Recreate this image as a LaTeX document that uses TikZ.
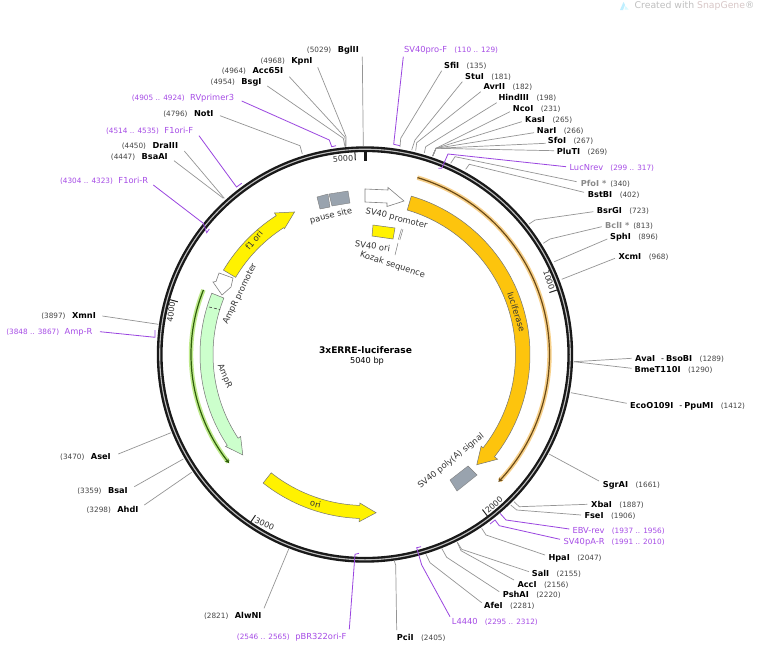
\documentclass[tikz,border=0pt]{standalone}
\usepackage{fontspec}
\setmainfont{DejaVu Sans}
\usetikzlibrary{arrows.meta}
\definecolor{primc}{HTML}{A64CE6}
\definecolor{primline}{HTML}{9A45E0}
\definecolor{numc}{HTML}{444444}
\definecolor{greyc}{HTML}{8A8A8A}
\definecolor{linec}{HTML}{959595}
\definecolor{featc}{HTML}{333333}
\definecolor{boxgrey}{HTML}{99A3AE}
\definecolor{lucc}{HTML}{FDC40D}
\definecolor{ampc}{HTML}{CCFFCC}
\definecolor{ocore}{HTML}{6B4A14}
\definecolor{oglow}{HTML}{F7D08A}
\definecolor{gcore}{HTML}{2F5F0A}
\definecolor{gglow}{HTML}{BFEA8C}
\newcommand\fnm{\fontsize{8.2}{9}\selectfont}
\newcommand\fnu{\fontsize{7.3}{9}\selectfont}
\newcommand\fpr{\fontsize{8.3}{9}\selectfont}
\newcommand\siteR[2]{{\fnm\bfseries\color{black}#1}\hspace{7.5pt}{\fnu\color{numc}#2}}
\newcommand\siteL[2]{{\fnu\color{numc}#1}\hspace{6.5pt}{\fnm\bfseries\color{black}#2}}
\newcommand\grayR[2]{{\fnm\bfseries\color{greyc}#1}\hspace{4pt}{\fnu\color{numc}#2}}
\newcommand\primR[2]{{\fpr\color{primc}#1}\hspace{7.2pt}{\fnu\color{primc}#2}}
\newcommand\primL[2]{{\fnu\color{primc}#1}\hspace{5.5pt}{\fpr\color{primc}#2}}
% id, x, y, content, start shift, knees, end, line style
\newcommand\RS[8]{\node[lbl,anchor=west] (#1) at (#2,#3) {#4};
  \coordinate (#1-end) at (#7);
  \draw[#8] ([shift={(#5)}]#1.west) #6 -- (#1-end);}
\newcommand\LS[8]{\node[lbl,anchor=east] (#1) at (#2,#3) {#4};
  \coordinate (#1-end) at (#7);
  \draw[#8] ([shift={(#5)}]#1.east) #6 -- (#1-end);}
\def\cx{365}\def\cy{354.5}
% style, a0, a1, rin, rout, abarb, rbarbin, rbarbout, atip, rtip
\newcommand\featarrow[2]{\featarrowB{#1}#2}
\newcommand\featarrowB[9]{\def\fstyle{#1}\def\aA{#2}\def\aB{#3}\def\rI{#4}\def\rO{#5}\def\aC{#6}\def\rC{#7}\def\rD{#8}\def\aT{#9}\featarrowC}
\newcommand\featarrowC[1]{\path[\fstyle] plot[domain=\aA:\aB,samples=60] ({\cx+\rO*sin(\x)},{\cy-\rO*cos(\x)})
  -- ({\cx+\rD*sin(\aC)},{\cy-\rD*cos(\aC)})
  -- ({\cx+#1*sin(\aT)},{\cy-#1*cos(\aT)})
  -- ({\cx+\rC*sin(\aC)},{\cy-\rC*cos(\aC)})
  -- plot[domain=\aB:\aA,samples=60] ({\cx+\rI*sin(\x)},{\cy-\rI*cos(\x)}) -- cycle;}
\newcommand\tickmark[1]{\draw[line width=1pt,black!85] ({\cx+203*sin(#1/14)},{\cy-203*cos(#1/14)}) -- ({\cx+194.5*sin(#1/14)},{\cy-194.5*cos(#1/14)});}
\tikzset{
  lbl/.style={inner sep=0pt,text height=6pt,text depth=1.5pt},
  sline/.style={linec,line width=0.7pt},
  pline/.style={primline,line width=0.8pt},
  flab/.style={inner sep=0pt,text=featc,font=\fontsize{8.4}{9}\selectfont},
  ticklab/.style={inner sep=0pt,text=featc,font=\fontsize{8}{9}\selectfont},
  feat/.style={draw=black!55,line width=0.5pt},
  yfeat/.style={feat,fill=yellow},
  lfeat/.style={feat,fill=lucc},
  gfeat/.style={feat,fill=ampc},
  wfeat/.style={draw=black!50,line width=0.6pt,fill=white},
  boxf/.style={draw=black!50,line width=0.4pt,fill=boxgrey},
}
\begin{document}
\begin{tikzpicture}[x=1pt,y=-1pt]
\useasboundingbox (0,0) rectangle (760,645);
\fill[white] (0,0) rectangle (760,645);
% watermark
\fill[blue!25!cyan!25] (620,10) -- (623.5,2) -- (625,5) -- (623,10) -- cycle;
\fill[blue!12!cyan!15] (625.5,6) -- (628.5,9.5) -- (624.5,9.5) -- cycle;
\node[inner sep=0pt,anchor=west,font=\fontsize{9.3}{10}\selectfont] (wm) at (634.5,6) {\color{black!25}Created with \color{red!30!black!22}SnapGene\color{black!25}®};
% ring
\draw[black!90,line width=5.8pt] (\cx,\cy) circle [radius=205.3];
\draw[white!75!black,line width=1.1pt] (\cx,\cy) circle [radius=205.3];
\draw[black!90,line width=2.6pt] (\cx+0.6,151.5) -- (\cx+0.6,160.7);
\foreach \p in {1000,2000,3000,4000,5000} {\tickmark{\p}}
\node[ticklab,rotate=4] (t5000) at (343,158.5) {5000};
\node[ticklab,rotate=-72] (t1000) at (549,280) {1000};
\node[ticklab,rotate=42] (t2000) at (494,505) {2000};
\node[ticklab,rotate=-25] (t3000) at (264.5,524) {3000};
\node[ticklab,rotate=83] (t4000) at (171,312) {4000};
% thin primer-like arcs
\draw[oglow,line width=4.4pt] plot[domain=16.5:133.2,samples=80] ({\cx+184.5*sin(\x)},{\cy-184.5*cos(\x)});
\draw[ocore,line width=1.2pt,-{Stealth[length=4.5pt,width=4.5pt]}] plot[domain=16.5:133.7,samples=80] ({\cx+184.5*sin(\x)},{\cy-184.5*cos(\x)});
\draw[gglow,line width=4.4pt] plot[domain=291.8:231.8,samples=80] ({\cx+174*sin(\x)},{\cy-174*cos(\x)});
\draw[gcore,line width=1.2pt,-{Stealth[length=4.5pt,width=4.5pt]}] plot[domain=291.8:231.3,samples=80] ({\cx+174*sin(\x)},{\cy-174*cos(\x)});
% features
\featarrow{lfeat}{{16.3}{128.3}{150.5}{165}{128.3}{148}{169}{134.6}{157}}
\featarrow{gfeat}{{291.8}{236.6}{152}{165}{236.6}{149}{167}{230.6}{158.2}}
\draw[black!75,line width=0.6pt,densely dashed] (209,307) -- (220,309.5);
\featarrow{yfeat}{{300.8}{327.4}{150.6}{164.8}{327.4}{149.4}{168}{333.7}{159}}
\featarrow{yfeat}{{218.4}{182}{151}{164}{182}{148.6}{167.3}{176}{158.6}}
\draw[wfeat] (219,273) -- (233,278) -- (231,287) -- (222,295) -- (213,282) -- (216,281.5) -- cycle;
\draw[wfeat] (365,189) -- (388,190) -- (388,187.5) -- (404,201) -- (387,206.5) -- (387,203) -- (365,202) -- cycle;
\path[boxf] (317,197) -- (328,194) -- (330,207) -- (320,209) -- cycle;
\path[boxf] (329,194) -- (348,191) -- (350,203) -- (332,206) -- cycle;
\path[yfeat] (373,225) -- (395,228) -- (393,239) -- (372,236) -- cycle;
\path[boxf] (450,480) -- (468,466) -- (477,475) -- (457,491) -- cycle;
\draw[black!50,line width=0.5pt] (401.5,228.8) -- (398.3,239.6);
\draw[black!50,line width=0.5pt] (403,229.2) -- (399.8,240);
% feature labels
\node[flab,rotate=14] (lpause) at (331,216) {pause site};
\node[flab,rotate=-14] (lsvp) at (396.5,218.5) {SV40 promoter};
\node[flab,rotate=-8] (lsvo) at (372.5,246) {SV40 ori};
\node[flab,rotate=-18] (lkoz) at (392.5,265) {Kozak sequence};
\coordinate (kozm) at (398,243);
\draw[black!50,line width=0.5pt] (kozm) -- (395,255);
\node[flab,rotate=-72,text=black!80] (lluc) at (516.5,312) {luciferase};
\node[flab,rotate=39] (lpa) at (451,461) {SV40 poly(A) signal};
\node[flab,rotate=-12] (lori) at (315.5,504) {ori};
\node[flab,rotate=50] (lf1) at (254,240) {f1 ori};
\node[flab,rotate=64] (lapr) at (240,294) {AmpR promoter};
\node[flab,rotate=-67] (lamp) at (224.5,376) {AmpR};
\node[inner sep=0pt,font=\fontsize{9.1}{10}\selectfont\bfseries] (title) at (365.5,350.5) {3xERRE-luciferase};
\node[inner sep=0pt,font=\fontsize{8.2}{9}\selectfont] (bp) at (367,361) {5040 bp};
% right side labels
\RS{svpf}{404}{50}{\primR{SV40pro-F}{(110 .. 129)}}{-.7,6.7}{-- (393.7,144.3)}{400,145.7}{pline}
\RS{sfi}{444}{66}{\siteR{SfiI}{(135)}}{-2.3,4.7}{-- (400.7,138.3)}{400,147}{sline}
\RS{stu}{465}{77}{\siteR{StuI}{(181)}}{-2.7,4.7}{-- (415,140)}{411.7,150}{sline}
\RS{avr}{483.3}{87.3}{\siteR{AvrII}{(182)}}{-2.6,4.4}{-- (416.7,142.7)}{415.7,150.7}{sline}
\RS{hin}{498.3}{98.3}{\siteR{HindIII}{(198)}}{-1.6,4.4}{-- (425.7,146.7)}{424.3,153}{sline}
\RS{nco}{512.7}{109.3}{\siteR{NcoI}{(231)}}{-2.7,2.4}{-- (436,148.3)}{432.7,156}{sline}
\RS{kas}{525}{120}{\siteR{KasI}{(265)}}{-3.3,1.7}{-- (436,148.3)}{432.7,156}{sline}
\RS{nar}{536.7}{131}{\siteR{NarI}{(266)}}{-2.7,1.7}{-- (436,148.3)}{432.7,156}{sline}
\RS{sfo}{547.7}{141.7}{\siteR{SfoI}{(267)}}{-2,1.6}{-- (436,148.3)}{432.7,156}{sline}
\RS{plu}{556.7}{152.7}{\siteR{PluTI}{(269)}}{-2.7,-2}{-- (436,148.3)}{432.7,156}{sline}
\RS{luc}{569.3}{168.7}{\primR{LucNrev}{(299 .. 317)}}{-3.3,-2}{-- (448,154) -- (441.7,168.3)}{438.3,168.3}{pline}
\RS{pfo}{580.7}{184}{\grayR{PfoI *}{(340)}}{-4,-2.3}{-- (455,156.7)}{450.7,163.3}{sline}
\RS{bst}{587.7}{195}{\siteR{BstBI}{(402)}}{-3.7,-2.7}{-- (469.3,164.3)}{465.7,169.3}{sline}
\RS{bsr}{596.7}{211}{\siteR{BsrGI}{(723)}}{-3.4,.7}{-- (535,220)}{529,224}{sline}
\RS{bcl}{605}{226.7}{\grayR{BclI *}{(813)}}{-3.3,0}{-- (550,239)}{543.3,243.3}{sline}
\RS{sph}{610}{237.3}{\siteR{SphI}{(896)}}{-2.7,1.7}{}{554.3,261.7}{sline}
\RS{xcm}{618.3}{257.7}{\siteR{XcmI}{(968)}}{-3.3,.6}{}{561.7,279.3}{sline}
\RS{ava}{635}{359.3}{\siteR{AvaI\hspace{6pt}{\mdseries-}\hspace{2pt}BsoBI}{(1289)}}{-3.3,-1}{}{574,361.7}{sline}
\RS{bme}{634.3}{370}{\siteR{BmeT110I}{(1290)}}{-2.6,-1.7}{}{574,361.7}{sline}
\RS{eco}{630}{406}{\siteR{EcoO109I\hspace{6pt}{\mdseries-}\hspace{2pt}PpuMI}{(1412)}}{-3.3,-2.7}{}{571,392.7}{sline}
\RS{sgr}{602.7}{485}{\siteR{SgrAI}{(1661)}}{-3.7,-4}{}{549,454}{sline}
\RS{xba}{591}{505}{\siteR{XbaI}{(1887)}}{-3.7,-.7}{-- (519.3,506.7)}{514,501.7}{sline}
\RS{fse}{584.3}{516}{\siteR{FseI}{(1906)}}{-3.3,-1}{-- (516.7,510)}{510.7,505}{sline}
\RS{ebv}{572.3}{531.7}{\primR{EBV-rev}{(1937 .. 1956)}}{-3,-2.7}{-- (506,520)}{500,513.3}{pline}
\RS{pa}{563.3}{542.7}{\primR{SV40pA-R}{(1991 .. 2010)}}{-3.3,-3.4}{-- (499.3,525.7) -- (495,520)}{490,524}{pline}
\RS{hpa}{548.3}{558.3}{\siteR{HpaI}{(2047)}}{-3.3,-3.3}{-- (486,535)}{481.7,528.3}{sline}
\RS{sal}{531.7}{574.3}{\siteR{SalI}{(2155)}}{-2.7,-2.6}{-- (461.7,549.3)}{457.3,542.3}{sline}
\RS{acc}{517.3}{585}{\siteR{AccI}{(2156)}}{-3.3,-5}{-- (461,550.7)}{457.3,542.3}{sline}
\RS{psh}{502.7}{595.7}{\siteR{PshAI}{(2220)}}{-3.4,-4}{-- (446.7,557.3)}{441.7,548.3}{sline}
\RS{afe}{484}{606.7}{\siteR{AfeI}{(2281)}}{-2.3,-4}{-- (430,562.7)}{426,554.3}{sline}
\RS{l44}{451.7}{622.3}{\primR{L4440}{(2295 .. 2312)}}{-1.7,-5.6}{-- (421.7,565) -- (416.7,547.7)}{421,546.7}{pline}
\RS{pci}{396.7}{638.3}{\siteR{PciI}{(2405)}}{0,-8.3}{-- (395.7,565)}{394,560}{sline}
% left side labels
\LS{bgl}{359}{50}{\siteL{(5029)}{BglII}}{3.3,6.7}{}{363.3,146}{sline}
\LS{kpn}{312.7}{61}{\siteL{(4968)}{KpnI}}{5,6.3}{-- (346,136.7)}{346,146.7}{sline}
\LS{a65}{283.3}{71.7}{\siteL{(4964)}{Acc65I}}{6,5}{-- (345,137.3)}{345.5,146.7}{sline}
\LS{bsg}{261.7}{82.7}{\siteL{(4954)}{BsgI}}{5.6,3.3}{-- (343.3,138.3)}{345,146.7}{sline}
\LS{rvp}{234.3}{98.3}{\primL{(4905 .. 4924)}{RVprimer3}}{7.4,2.7}{-- (329.3,140) -- (331.7,146.7)}{336,145.7}{pline}
\LS{not}{213.7}{114.3}{\siteL{(4796)}{NotI}}{6.3,1.4}{-- (300,145.7)}{302.3,154}{sline}
\LS{f1f}{193.3}{131}{\primL{(4514 .. 4535)}{F1ori-F}}{5.7,4.7}{-- (236.5,187)}{241.7,183.3}{pline}
\LS{dra}{178.3}{146.7}{\siteL{(4450)}{DraIII}}{6,4.3}{}{224.3,198.3}{sline}
\LS{bsa}{168}{157.7}{\siteL{(4447)}{BsaAI}}{6,3}{}{223.3,198.3}{sline}
\LS{f1r}{148.3}{181}{\primL{(4304 .. 4323)}{F1ori-R}}{5,4}{-- (203.3,223.3) -- (206.7,232.7)}{209.3,229}{pline}
\LS{xmn}{96}{316}{\siteL{(3897)}{XmnI}}{6.3,0}{}{158.3,324.3}{sline}
\LS{amr}{92.7}{332.7}{\primL{(3848 .. 3867)}{Amp-R}}{7.3,-1}{-- (155,337.3)}{155,330}{pline}
\LS{ase}{111}{457.7}{\siteL{(3470)}{AseI}}{7.3,-3.7}{}{171,432.7}{sline}
\LS{bsi}{128}{491}{\siteL{(3359)}{BsaI}}{6.3,-4.3}{}{183.3,459}{sline}
\LS{ahd}{138.7}{510}{\siteL{(3298)}{AhdI}}{5.6,-5}{}{191.7,472.3}{sline}
\LS{alw}{261.7}{616.7}{\siteL{(2821)}{AlwNI}}{2.3,-8.4}{}{289,548.3}{sline}
\LS{pbr}{346.7}{637.7}{\primL{(2546 .. 2565)}{pBR322ori-F}}{2.6,-8.4}{-- (355,554.3)}{359,553.3}{pline}
\end{tikzpicture}
\end{document}
